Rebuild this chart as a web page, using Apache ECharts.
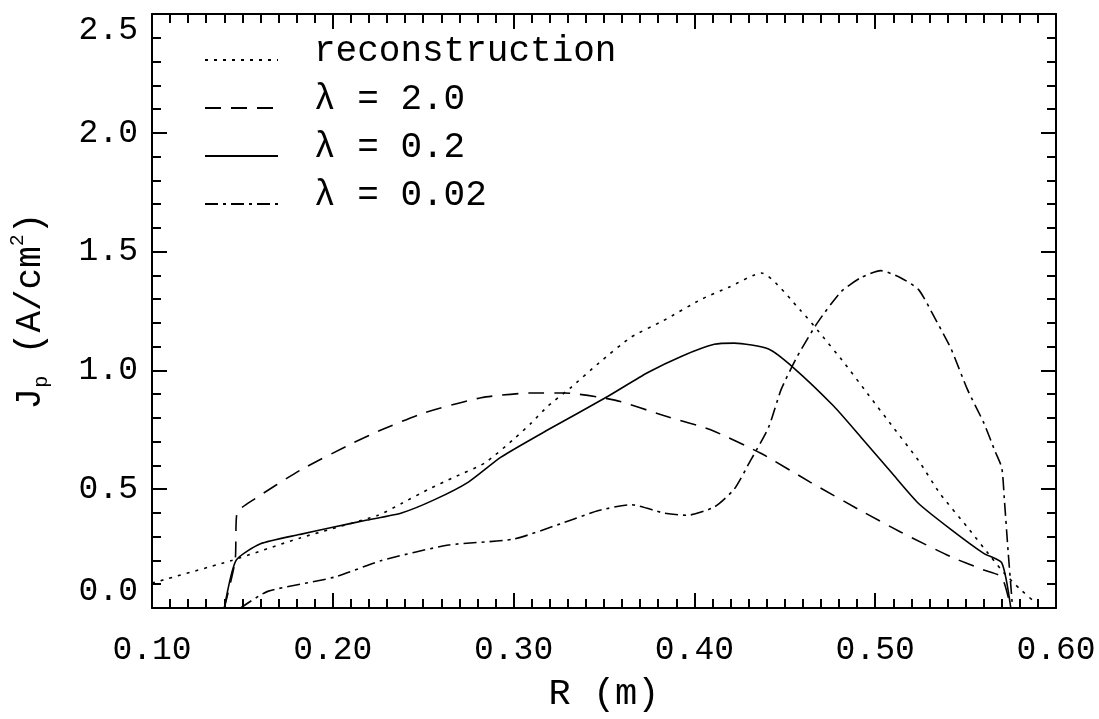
<!DOCTYPE html>
<html>
<head>
<meta charset="utf-8">
<title>Jp profile</title>
<script src="https://cdn.jsdelivr.net/npm/echarts@6/dist/echarts.min.js"></script>
<style>
  html, body { margin: 0; padding: 0; background: #fff; }
  #chart { width: 1099px; height: 719px; }
</style>
</head>
<body>
<div id="chart"></div>
<script>
// R (m) / Jp (A/cm^2)
const reconR = [0.100, 0.144, 0.182, 0.225, 0.238, 0.253, 0.267, 0.284, 0.300, 0.310, 0.319, 0.332, 0.347, 0.365, 0.383, 0.404, 0.419, 0.437, 0.459, 0.468, 0.483, 0.496, 0.510, 0.524, 0.536, 0.551, 0.564, 0.571, 0.580, 0.589]
const reconJ = [0.105, 0.20, 0.295, 0.39, 0.44, 0.50, 0.55, 0.61, 0.71, 0.78, 0.85, 0.93, 1.03, 1.14, 1.21, 1.30, 1.35, 1.41, 1.25, 1.17, 1.03, 0.90, 0.76, 0.62, 0.48, 0.34, 0.215, 0.15, 0.08, 0.02]

const lam2R = [0.140, 0.146, 0.147, 0.156, 0.182, 0.210, 0.227, 0.250, 0.282, 0.310, 0.328, 0.356, 0.383, 0.409, 0.437, 0.464, 0.492, 0.514, 0.542, 0.560, 0.570, 0.575]
const lam2J = [0.0, 0.20, 0.40, 0.455, 0.58, 0.69, 0.75, 0.82, 0.885, 0.905, 0.905, 0.875, 0.81, 0.75, 0.65, 0.53, 0.41, 0.32, 0.215, 0.16, 0.13, 0.0]

const lam02R = [0.140, 0.1465, 0.160, 0.182, 0.200, 0.219, 0.238, 0.256, 0.275, 0.293, 0.319, 0.352, 0.374, 0.393, 0.411, 0.422, 0.441, 0.455, 0.477, 0.492, 0.509, 0.524, 0.542, 0.560, 0.570, 0.575]
const lam02J = [0.0, 0.20, 0.27, 0.31, 0.34, 0.37, 0.40, 0.455, 0.53, 0.635, 0.75, 0.89, 0.99, 1.06, 1.11, 1.115, 1.09, 1.01, 0.85, 0.72, 0.57, 0.44, 0.33, 0.23, 0.19, 0.0]

const lam002R = [0.149, 0.164, 0.201, 0.227, 0.264, 0.300, 0.328, 0.347, 0.365, 0.383, 0.396, 0.411, 0.422, 0.431, 0.441, 0.448, 0.457, 0.468, 0.481, 0.492, 0.503, 0.514, 0.524, 0.533, 0.542, 0.551, 0.560, 0.566, 0.570, 0.5715, 0.5735, 0.576]
const lam002J = [0.0, 0.07, 0.13, 0.20, 0.265, 0.29, 0.36, 0.41, 0.435, 0.40, 0.39, 0.425, 0.50, 0.62, 0.76, 0.92, 1.06, 1.20, 1.33, 1.39, 1.42, 1.39, 1.34, 1.22, 1.09, 0.92, 0.78, 0.665, 0.59, 0.45, 0.24, 0.0]

const seriesNames = ['reconstruction', 'λ = 2.0', 'λ = 0.2', 'λ = 0.02']
const xTicks = [0.1, 0.6, 0.1] // min, max, step
const yTicks = [0, 2.5, 0.5]

// IDL's vector font is close to a monospace face
const FONT = 'Liberation Mono'
const pairs = (xs, ys) => xs.map((x, i) => [x, ys[i]])

const chart = echarts.init(document.getElementById('chart'))

// shared look of the boxed axes, ticks pointing inwards
const axisBase = {
  type: 'value',
  axisLine: { show: true, onZero: false, lineStyle: { color: '#000', width: 2 } },
  axisTick: { show: true, inside: true, length: 15, lineStyle: { color: '#000', width: 2 } },
  minorTick: { show: true, length: 9, lineStyle: { color: '#000', width: 2 } },
  splitLine: { show: false },
  minorSplitLine: { show: false }
}

const xBase = Object.assign({}, axisBase, {
  min: xTicks[0], max: xTicks[1], interval: xTicks[2],
  minorTick: Object.assign({}, axisBase.minorTick, { splitNumber: 10 })
})
const yBase = Object.assign({}, axisBase, {
  min: yTicks[0], max: yTicks[1], interval: yTicks[2],
  minorTick: Object.assign({}, axisBase.minorTick, { splitNumber: 5 })
})

const lineTypes = [[3, 6], [16, 10], 'solid', [13, 5, 3, 5]]
const datasets = [pairs(reconR, reconJ), pairs(lam2R, lam2J), pairs(lam02R, lam02J), pairs(lam002R, lam002J)]

const series = datasets.map((data, i) => ({
  name: seriesNames[i],
  type: 'line',
  data,
  symbol: 'none',
  smooth: 0.2,
  xAxisIndex: 0,
  yAxisIndex: 0,
  lineStyle: { color: '#000', width: 1.6, type: lineTypes[i] },
  animation: false
}))

const labelFont = { fontFamily: FONT, fontSize: 33, color: '#000' }

const option = {
  backgroundColor: '#fff',
  animation: false,
  grid: { left: 151, right: 43, top: 14, bottom: 111 },
  legend: {
    data: seriesNames,
    orient: 'vertical',
    left: 199,
    top: 28,
    itemWidth: 73,
    itemHeight: 14,
    itemGap: 3,
    itemStyle: { opacity: 0 },
    // an empty second line lifts the text above its line sample, as in the original
    formatter: name => '{a|' + name + '}\n{b| }',
    textStyle: {
      color: '#000',
      rich: {
        a: { fontFamily: FONT, fontSize: 36, color: '#000', lineHeight: 26, padding: [0, 0, 0, 31] },
        b: { fontSize: 10, lineHeight: 18 }
      }
    }
  },
  xAxis: [
    Object.assign({}, xBase, {
      position: 'bottom',
      name: 'R (m)',
      nameLocation: 'middle',
      nameGap: 68,
      nameTextStyle: { fontFamily: FONT, fontSize: 37, color: '#000' },
      axisLabel: Object.assign({}, labelFont, { margin: 26, formatter: v => v.toFixed(2) })
    }),
    Object.assign({}, xBase, { position: 'top', axisLabel: { show: false } })
  ],
  yAxis: [
    Object.assign({}, yBase, {
      position: 'left',
      name: '{t|J}{s|p}{t| (A/cm}{u|2}{t|)}',
      nameLocation: 'middle',
      nameGap: 100,
      nameRotate: 90,
      nameTextStyle: {
        rich: {
          t: { fontFamily: FONT, fontSize: 36, color: '#000', lineHeight: 44 },
          s: { fontFamily: FONT, fontSize: 20, color: '#000', verticalAlign: 'bottom', lineHeight: 44 },
          u: { fontFamily: FONT, fontSize: 20, color: '#000', verticalAlign: 'top', lineHeight: 44 }
        }
      },
      axisLabel: Object.assign({}, labelFont, {
        margin: 14,
        verticalAlignMinLabel: 'bottom',
        verticalAlignMaxLabel: 'top',
        formatter: v => v.toFixed(1)
      })
    }),
    Object.assign({}, yBase, { position: 'right', axisLabel: { show: false } })
  ],
  series
}

chart.setOption(option)
</script>
</body>
</html>
